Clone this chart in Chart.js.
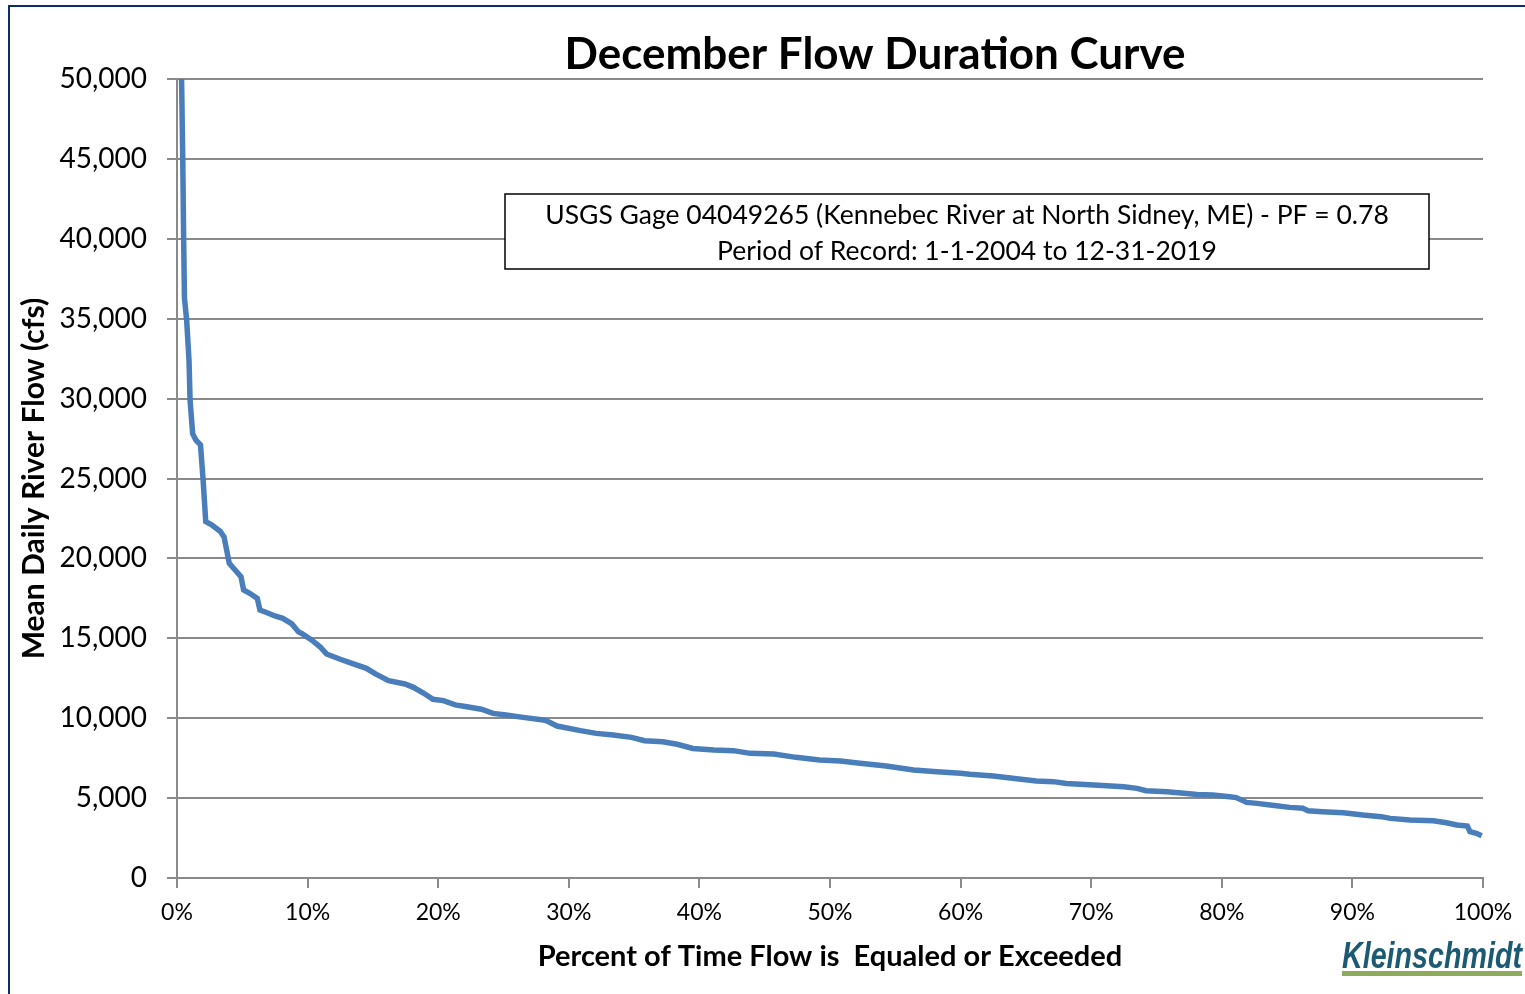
<!DOCTYPE html>
<html>
<head>
<meta charset="utf-8">
<script src="https://cdn.jsdelivr.net/npm/chart.js@4"></script>
<style>
  html, body { margin: 0; padding: 0; background: #fff; }
  #wrap { width: 1525px; height: 994px; position: relative; }
</style>
</head>
<body>
<div id="wrap"><canvas id="fdc" width="1525" height="994"></canvas></div>
<script>
// percent of time flow is equaled or exceeded
const pct = [
  0.35, 0.44, 0.51, 0.57, 0.74, 0.92, 1.0, 1.2, 1.45, 1.8,
  2.0, 2.2, 2.65, 3.3, 3.6, 4.0, 4.45, 4.9, 5.1, 5.6,
  6.15, 6.35, 6.9, 7.5, 8.1, 8.8, 9.3, 9.55, 10.3, 10.95,
  11.45, 12.5, 13.4, 14.5, 15.2, 16.2, 17.45, 18.1, 18.9, 19.6,
  20.4, 21.3, 22.2, 23.3, 24.2, 25.2, 26.5, 28.05, 28.3, 29.1,
  30.9, 32.1, 33.4, 34.8, 35.8, 37.2, 38.3, 39.5, 41.1, 42.6,
  43.9, 45.7, 47.4, 49.2, 50.8, 52.3, 54.3, 56.4, 58.2, 60.0,
  60.7, 62.5, 64.3, 65.8, 67.1, 68.1, 70.2, 72.5, 73.5, 74.2,
  75.8, 77.1, 78.1, 79.3, 80.6, 81.1, 81.9, 82.7, 83.7, 85.2,
  86.2, 86.6, 87.7, 89.3, 90.8, 92.2, 92.9, 94.4, 96.2, 97.2,
  98.0, 98.8, 99.0, 99.5, 99.9
];
// mean daily river flow (cfs)
const flow = [
  50000, 45000, 40000, 36300, 34900, 32400, 29900, 27800, 27400, 27100,
  24900, 22300, 22100, 21700, 21350, 19700, 19270, 18850, 18020, 17800,
  17500, 16770, 16600, 16400, 16250, 15900, 15400, 15300, 14900, 14470,
  14020, 13690, 13430, 13120, 12770, 12350, 12140, 11930, 11560, 11180,
  11100, 10830, 10720, 10560, 10300, 10200, 10050, 9890, 9840, 9510,
  9220, 9050, 8950, 8800, 8590, 8530, 8370, 8110, 8010, 7970,
  7800, 7760, 7550, 7380, 7320, 7180, 7010, 6760, 6650, 6550,
  6490, 6380, 6210, 6070, 6030, 5920, 5820, 5710, 5610, 5460,
  5400, 5300, 5230, 5190, 5090, 5030, 4730, 4670, 4570, 4420,
  4360, 4210, 4150, 4080, 3940, 3840, 3730, 3630, 3580, 3460,
  3320, 3250, 2900, 2800, 2650
];

const chartTitle = 'December Flow Duration Curve';
const noteLines = [
  'USGS Gage 04049265 (Kennebec River at North Sidney, ME) - PF = 0.78',
  'Period of Record: 1-1-2004 to 12-31-2019'
];
const xTitle = 'Percent of Time Flow is  Equaled or Exceeded';
const yTitle = 'Mean Daily River Flow (cfs)';
const logoText = 'Kleinschmidt';

const GRID = '#8a8a8a';
const LINE = '#4a7ebb';

// title, note box, logo and frame
const decor = {
  id: 'decor',
  afterDraw(chart) {
    const ctx = chart.ctx;
    ctx.save();

    // frame (top + left edges visible)
    ctx.strokeStyle = '#0e2b6c';
    ctx.lineWidth = 2;
    ctx.beginPath();
    ctx.moveTo(9, 994);
    ctx.lineTo(9, 6);
    ctx.lineTo(1525, 6);
    ctx.stroke();

    // title
    ctx.fillStyle = '#000';
    ctx.font = 'bold 44px Lato';
    ctx.textAlign = 'center';
    ctx.textBaseline = 'middle';
    ctx.fillText(chartTitle, 875, 55);

    // note box
    ctx.fillStyle = '#fff';
    ctx.fillRect(505, 194, 924, 75);
    ctx.strokeStyle = '#000';
    ctx.lineWidth = 1.5;
    ctx.strokeRect(505, 194, 924, 75);
    ctx.fillStyle = '#000';
    ctx.font = '26.5px Lato';
    ctx.fillText(noteLines[0], 967, 215);
    ctx.fillText(noteLines[1], 967, 251);

    // logo
    ctx.font = 'italic bold 36px "Liberation Sans"';
    const w = ctx.measureText(logoText).width;
    ctx.save();
    ctx.translate(1342, 968);
    ctx.scale(180 / w, 1);
    ctx.textAlign = 'left';
    ctx.textBaseline = 'alphabetic';
    ctx.fillStyle = '#1b5a72';
    ctx.fillText(logoText, 0, 0);
    ctx.restore();
    ctx.fillStyle = '#8dab5b';
    ctx.fillRect(1342, 971, 180, 5);

    ctx.restore();
  }
};

new Chart(document.getElementById('fdc'), {
  type: 'line',
  data: {
    datasets: [{
      data: pct.map((p, i) => ({ x: p, y: flow[i] })),
      borderColor: LINE,
      borderWidth: 5.5,
      pointRadius: 0,
      tension: 0,
      fill: false
    }]
  },
  options: {
    responsive: false,
    animation: false,
    layout: { padding: { left: 0, right: 42, top: 79, bottom: 0 } },
    plugins: {
      legend: { display: false },
      title: { display: false },
      tooltip: { enabled: false }
    },
    scales: {
      x: {
        type: 'linear',
        min: 0,
        max: 100,
        afterFit: s => { s.height = 116; },
        border: { display: true, color: GRID, width: 2 },
        grid: { drawOnChartArea: false, drawTicks: true, tickLength: 10, color: GRID, lineWidth: 2 },
        ticks: {
          stepSize: 10,
          autoSkip: false,
          maxRotation: 0,
          padding: 11,
          color: '#000',
          font: { family: 'Lato', size: 23 },
          callback: v => v + '%'
        },
        title: {
          display: true,
          text: xTitle,
          color: '#000',
          font: { family: 'Lato', size: 29, weight: 'bold' },
          padding: { top: 0, bottom: 20 }
        }
      },
      y: {
        min: 0,
        max: 50000,
        afterFit: s => { s.width = 177; },
        border: { display: true, color: GRID, width: 2 },
        grid: { color: GRID, lineWidth: 2, tickLength: 10 },
        ticks: {
          stepSize: 5000,
          padding: 20,
          color: '#000',
          font: { family: 'Lato', size: 28 },
          callback: v => v.toLocaleString('en-US')
        },
        title: {
          display: true,
          text: yTitle,
          color: '#000',
          font: { family: 'Lato', size: 30, weight: 'bold' },
          padding: { top: 16, bottom: 0 }
        }
      }
    }
  },
  plugins: [decor]
});
</script>
</body>
</html>
